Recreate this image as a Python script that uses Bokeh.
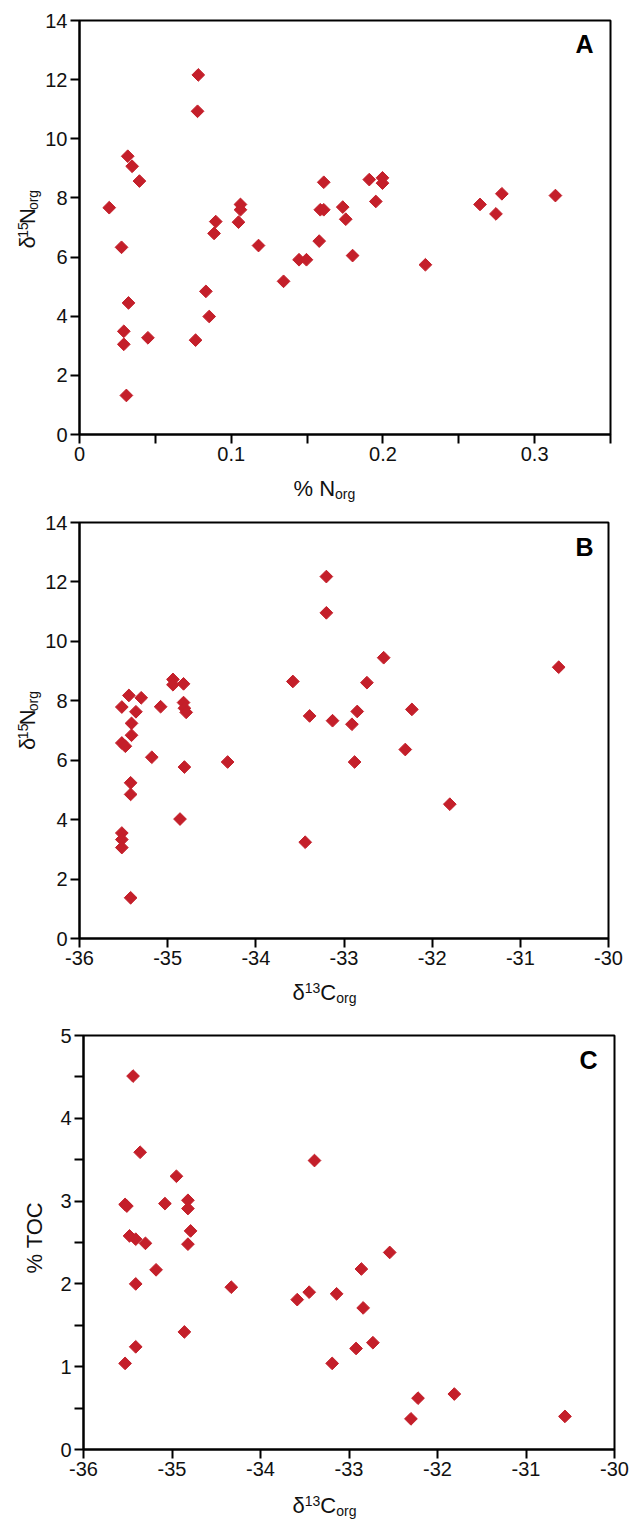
import math
from bokeh.plotting import figure
from bokeh.models import Range1d, FixedTicker, Label
from bokeh.layouts import column, row
from bokeh.core.properties import value
from bokeh.embed import file_html
from bokeh.resources import INLINE

# ---------------- data ----------------
# Panel A: % N_org vs d15N_org
a_norg = [0.0783, 0.0778, 0.0318, 0.0347, 0.0395, 0.0196, 0.0898, 0.0887, 0.1048, 0.1061,
          0.1061, 0.118, 0.161, 0.1587, 0.161, 0.1735, 0.1755, 0.158, 0.0277, 0.191,
          0.1997, 0.1997, 0.1953, 0.264, 0.2784, 0.2745, 0.3137, 0.180, 0.1447, 0.1496,
          0.1345, 0.0833, 0.0855, 0.0323, 0.0292, 0.0292, 0.0451, 0.0765, 0.0309, 0.228]
a_d15n = [12.16, 10.93, 9.41, 9.07, 8.57, 7.67, 7.20, 6.80, 7.18, 7.78,
          7.60, 6.39, 8.53, 7.60, 7.60, 7.69, 7.28, 6.54, 6.33, 8.62,
          8.68, 8.50, 7.88, 7.78, 8.14, 7.46, 8.08, 6.05, 5.91, 5.91,
          5.18, 4.84, 3.99, 4.45, 3.49, 3.05, 3.27, 3.19, 1.32, 5.74]

# Panel B: d13C_org vs d15N_org
b_d13c = [-33.20, -33.20, -33.58, -33.39, -33.13, -32.91, -32.85, -34.94, -34.94, -34.82,
          -34.82, -34.81, -34.79, -35.08, -35.44, -35.30, -35.52, -35.36, -35.41, -35.41,
          -35.52, -35.48, -35.18, -34.81, -34.32, -32.88, -35.42, -35.42, -34.86, -35.52,
          -35.52, -35.52, -33.44, -35.42, -32.55, -32.74, -32.23, -30.565, -32.305, -31.80]
b_d15n = [12.18, 10.96, 8.65, 7.49, 7.33, 7.21, 7.64, 8.72, 8.54, 8.57,
          7.94, 7.75, 7.61, 7.80, 8.18, 8.10, 7.79, 7.63, 7.24, 6.84,
          6.58, 6.47, 6.10, 5.77, 5.94, 5.94, 5.24, 4.85, 4.02, 3.55,
          3.33, 3.06, 3.24, 1.37, 9.45, 8.61, 7.71, 9.13, 6.36, 4.52]

# Panel C: d13C_org vs % TOC
c_d13c = [-35.44, -35.36, -34.95, -33.39, -35.53, -35.51, -35.08, -34.82, -34.82, -34.79,
          -34.82, -35.48, -35.41, -35.30, -35.18, -32.86, -35.41, -34.33, -33.585, -33.45,
          -33.14, -34.86, -35.41, -35.53, -33.19, -32.92, -32.54, -32.84, -32.73, -31.81,
          -32.22, -32.30, -30.56]
c_toc = [4.51, 3.59, 3.30, 3.49, 2.96, 2.94, 2.97, 3.01, 2.91, 2.64,
         2.48, 2.58, 2.54, 2.49, 2.17, 2.18, 2.00, 1.96, 1.81, 1.90,
         1.88, 1.42, 1.24, 1.04, 1.04, 1.22, 2.38, 1.71, 1.29, 0.67,
         0.62, 0.37, 0.40]

# tick values / labels
a_xticks = [0, 0.05, 0.1, 0.15, 0.2, 0.25, 0.3, 0.35]
a_xlabels = ["0", "", "0.1", "", "0.2", "", "0.3", ""]
n_yticks = [0, 2, 4, 6, 8, 10, 12, 14]
n_ylabels = ["0", "2", "4", "6", "8", "10", "12", "14"]
c_xticks = [-36, -35, -34, -33, -32, -31, -30]
c_xlabels = ["-36", "-35", "-34", "-33", "-32", "-31", "-30"]
toc_yticks = [0, 0.5, 1, 1.5, 2, 2.5, 3, 3.5, 4, 4.5, 5]
toc_ylabels = ["0", "", "1", "", "2", "", "3", "", "4", "", "5"]

RED = "#C41F2A"
FONT = "Liberation Sans"
TXT = "#111111"
BIG, SMALL = 22, 14


def make_plot(w, h, xr, yr, bl, br, bt, bb, xt, xl, yt, yl):
    p = figure(width=w, height=h, x_range=Range1d(*xr), y_range=Range1d(*yr),
               output_backend="svg", toolbar_location=None,
               min_border_left=bl, min_border_right=br, min_border_top=bt, min_border_bottom=bb)
    p.grid.visible = False
    p.outline_line_color = "black"
    p.outline_line_width = 2
    p.outline_line_alpha = 1
    p.background_fill_color = "white"
    p.border_fill_color = "white"
    for ax, ticks, labels in ((p.xaxis[0], xt, xl), (p.yaxis[0], yt, yl)):
        ax.ticker = FixedTicker(ticks=ticks)
        ax.major_label_overrides = {t: s for t, s in zip(ticks, labels)}
        ax.axis_line_width = 2
        ax.axis_line_color = "black"
        ax.major_tick_line_width = 2
        ax.major_tick_line_color = "black"
        ax.major_tick_out = 9
        ax.major_tick_in = 0
        ax.minor_tick_out = 0
        ax.minor_tick_in = 0
        ax.major_label_text_font = FONT
        ax.major_label_text_font_size = "20px"
        ax.major_label_text_color = TXT
        ax.major_label_standoff = 3
    return p


def text_fig(w, h):
    f = figure(width=w, height=h, x_range=Range1d(0, w), y_range=Range1d(h, 0),
               output_backend="svg", toolbar_location=None,
               x_axis_type=None, y_axis_type=None, min_border=0,
               min_border_left=0, min_border_right=0, min_border_top=0, min_border_bottom=0)
    f.grid.visible = False
    f.outline_line_color = None
    f.background_fill_color = "white"
    f.border_fill_color = "white"
    return f


def put(f, x, y, text, size, angle=0.0, align="left"):
    # (x, y) is the point at the middle of the text's em box
    f.text(x=[x], y=[y], text=[text], text_font=value(FONT),
           text_font_size=value(f"{size}px"), angle=angle, text_align=align,
           text_baseline="middle", text_color=TXT)


def letter(p, xr, yr, box, px, py, text):
    l, r, t, b = box
    x = xr[0] + (px - l) / (r - l) * (xr[1] - xr[0])
    y = yr[0] + (b - py) / (b - t) * (yr[1] - yr[0])
    p.add_layout(Label(x=x, y=y, text=text, text_font=FONT, text_font_size="25px",
                       text_font_style="bold", text_align="right",
                       text_baseline="middle", text_color="black"))


wd = 0.556 * BIG
w2 = 2 * 0.556 * SMALL
wN = 0.722 * BIG
wC = 0.722 * BIG
worg = 1.445 * SMALL
SUP = 4.2   # sup middle offset from main middle (towards top of text)
SUB = 5.8   # sub middle offset from main middle (towards bottom of text)


def ylabel_delta(f, xm, yc, sup, main):
    # xm: middle line of main text (rotated, reading upwards)
    total = wd + w2 + wN + worg
    y0 = yc + total / 2
    a = math.pi / 2
    put(f, xm, y0, "δ", BIG, angle=a)
    put(f, xm - SUP, y0 - wd, sup, SMALL, angle=a)
    put(f, xm, y0 - wd - w2, main, BIG, angle=a)
    put(f, xm + SUB, y0 - wd - w2 - wN, "org", SMALL, angle=a)


def xlabel_delta(f, x0, ym):
    put(f, x0, ym, "δ", BIG)
    put(f, x0 + wd, ym - SUP, "13", SMALL)
    put(f, x0 + wd + w2, ym, "C", BIG)
    put(f, x0 + wd + w2 + wC, ym + SUB, "org", SMALL)


# ---------------- panel A (page y 0..506) ----------------
xrA, yrA = (0, 0.35), (0, 14)
pA = make_plot(588, 470, xrA, yrA, 35, 20, 20, 36, a_xticks, a_xlabels, n_yticks, n_ylabels)
pA.scatter(a_norg, a_d15n, marker="square", size=9, angle=math.pi / 4, color=RED)
letter(pA, xrA, yrA, (77, 610, 20, 434), 593, 43, "A")
ylA = text_fig(42, 470)
ylabel_delta(ylA, 27, 227, "15", "N")
xlA = text_fig(630, 36)
put(xlA, 293, 18, "% N", BIG)
put(xlA, 293 + 1.889 * BIG, 18 + SUB, "org", SMALL)

# ---------------- panel B (page y 506..1010) ----------------
xrB, yrB = (-36, -30), (0, 14)
pB = make_plot(588, 468, xrB, yrB, 35, 22, 16, 36, c_xticks, c_xlabels, n_yticks, n_ylabels)
pB.scatter(b_d13c, b_d15n, marker="square", size=9, angle=math.pi / 4, color=RED)
letter(pB, xrB, yrB, (77, 608, 522, 938), 593, 546, "B")
ylB = text_fig(42, 468)
ylabel_delta(ylB, 27, 224, "15", "N")
xlB = text_fig(630, 36)
xlabel_delta(xlB, 292, 18)

# ---------------- panel C (page y 1010..1522) ----------------
xrC, yrC = (-36, -30), (0, 5)
pC = make_plot(582, 475, xrC, yrC, 35, 16, 25, 36, c_xticks, c_xlabels, toc_yticks, toc_ylabels)
pC.scatter(c_d13c, c_toc, marker="square", size=9, angle=math.pi / 4, color=RED)
letter(pC, xrC, yrC, (83, 614, 1035, 1449), 597, 1059, "C")
ylC = text_fig(48, 475)
put(ylC, 34, 232, "% TOC", BIG, angle=math.pi / 2, align="center")
xlC = text_fig(630, 37)
xlabel_delta(xlC, 292, 20)

layout = column(
    row(ylA, pA, spacing=0), xlA,
    row(ylB, pB, spacing=0), xlB,
    row(ylC, pC, spacing=0), xlC,
    spacing=0,
)
open("out.html", "w").write(file_html(layout, INLINE))
